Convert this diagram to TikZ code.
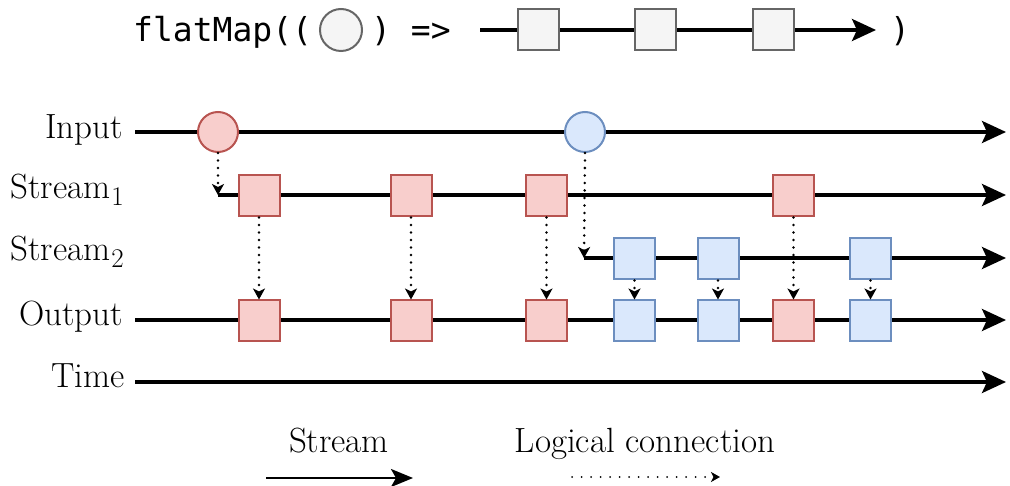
\documentclass[tikz,border=0pt]{standalone}
\usepackage{fontspec}
\newfontfamily\codefont{DejaVu Sans Mono}
\usetikzlibrary{arrows.meta}
\definecolor{redfill}{HTML}{F8CECC}
\definecolor{redline}{HTML}{B85450}
\definecolor{bluefill}{HTML}{DAE8FC}
\definecolor{blueline}{HTML}{6C8EBF}
\definecolor{grayfill}{HTML}{F5F5F5}
\definecolor{grayline}{HTML}{666666}
\newcommand{\lowidx}[1]{\kern1pt\raisebox{-7pt}{\fontsize{27}{30}\selectfont #1}}
\pgfdeclarelayer{lines}
\pgfsetlayers{lines,main}
\begin{document}
\begin{tikzpicture}[x=1pt,y=-1pt,
  label/.style={inner sep=0pt, font=\fontsize{35}{40}\selectfont},
  code/.style={inner sep=0pt, font=\codefont\fontsize{33}{40}\selectfont},
  evt/.style={rectangle, line width=2pt, minimum size=41pt, inner sep=0pt},
  redsq/.style={evt, draw=redline, fill=redfill},
  bluesq/.style={evt, draw=blueline, fill=bluefill},
  graysq/.style={evt, draw=grayline, fill=grayfill},
  evc/.style={circle, line width=2pt, minimum size=40pt, inner sep=0pt},
  redcirc/.style={evc, draw=redline, fill=redfill},
  bluecirc/.style={evc, draw=blueline, fill=bluefill},
  graycirc/.style={evc, draw=grayline, fill=grayfill, minimum size=42pt},
  streamline/.style={line width=3.5pt, -{Stealth[length=24pt,width=22pt,inset=5pt]}},
  link/.style={line width=2.8pt, line cap=round, dash pattern=on 0pt off 7.5pt,
    -{Stealth[length=11pt,width=12pt,inset=3pt]}},
  legendstream/.style={line width=2.5pt, -{Stealth[length=22pt,width=18pt,inset=5pt]}},
  legendlink/.style={line width=2pt, line cap=round, dash pattern=on 0pt off 9.5pt,
    -{Stealth[length=9pt,width=10pt,inset=2.5pt]}}
]
\useasboundingbox (0,0) rectangle (1010,486);

% flatMap signature
\node[code, anchor=base west] (fm) at (133,42) {flatMap((};
\node[graycirc] (gc) at (341,30) {};
\node[code, anchor=base west] (fa) at (371,42) {) =>};
\coordinate (ts) at (480,30);
\coordinate (te) at (876,30);
\node[graysq] (g1) at (538.5,30) {};
\node[graysq] (g2) at (655.5,30) {};
\node[graysq] (g3) at (773.5,30) {};
\node[code, anchor=base west] (fc) at (890,42) {)};

% row labels
\node[label, anchor=base east] (lin) at (123,139) {Input};
\node[label, anchor=base east] (ls1) at (124,199) {Stream\lowidx{1}};
\node[label, anchor=base east] (ls2) at (124,261) {Stream\lowidx{2}};
\node[label, anchor=base east] (lout) at (123,326) {Output};
\node[label, anchor=base east] (ltime) at (125,388) {Time};

% line end points
\coordinate (inS) at (135,132);  \coordinate (inE) at (1006,132);
\coordinate (s1S) at (218,195);  \coordinate (s1E) at (1006,195);
\coordinate (s2S) at (584,258);  \coordinate (s2E) at (1006,258);
\coordinate (oS) at (135,320);   \coordinate (oE) at (1006,320);
\coordinate (tS) at (135,382);   \coordinate (tE) at (1006,382);

% input events
\node[redcirc] (in1) at (218,132) {};
\node[bluecirc] (in2) at (585,132) {};

% stream 1
\node[redsq] (a1) at (259,196) {};
\node[redsq] (a2) at (411,196) {};
\node[redsq] (a3) at (546.5,196) {};
\node[redsq] (a4) at (793.5,196) {};

% stream 2
\node[bluesq] (b1) at (634.5,259) {};
\node[bluesq] (b2) at (718,259) {};
\node[bluesq] (b3) at (870.5,259) {};

% output
\node[redsq] (o1) at (259,321) {};
\node[redsq] (o2) at (411,321) {};
\node[redsq] (o3) at (546.5,321) {};
\node[bluesq] (o4) at (634.5,321) {};
\node[bluesq] (o5) at (718,321) {};
\node[redsq] (o6) at (793.5,321) {};
\node[bluesq] (o7) at (870.5,321) {};

\begin{pgfonlayer}{lines}
  \draw[streamline] (ts) -- (te);
  \draw[streamline] (inS) -- (inE);
  \draw[streamline] (s1S) -- (s1E);
  \draw[streamline] (s2S) -- (s2E);
  \draw[streamline] (oS) -- (oE);
  \draw[streamline] (tS) -- (tE);
\end{pgfonlayer}

% logical connections
\draw[link] (in1.south) -- (s1S);
\draw[link] (in2.south) -- (s2S);
\draw[link] (a1.south) -- (o1.north);
\draw[link] (a2.south) -- (o2.north);
\draw[link] (a3.south) -- (o3.north);
\draw[link] (a4.south) -- (o6.north);
\draw[link] (b1.south) -- (o4.north);
\draw[link] (b2.south) -- (o5.north);
\draw[link] (b3.south) -- (o7.north);

% legend
\node[label, anchor=base] (lgs) at (339,452) {Stream};
\coordinate (l1a) at (266,478);
\coordinate (l1b) at (413,478);
\draw[legendstream] (l1a) -- (l1b);
\node[label, anchor=base] (lgl) at (645,452) {Logical connection};
\coordinate (l2a) at (572,477);
\coordinate (l2b) at (720,477);
\draw[legendlink] (l2a) -- (l2b);
\end{tikzpicture}
\end{document}
